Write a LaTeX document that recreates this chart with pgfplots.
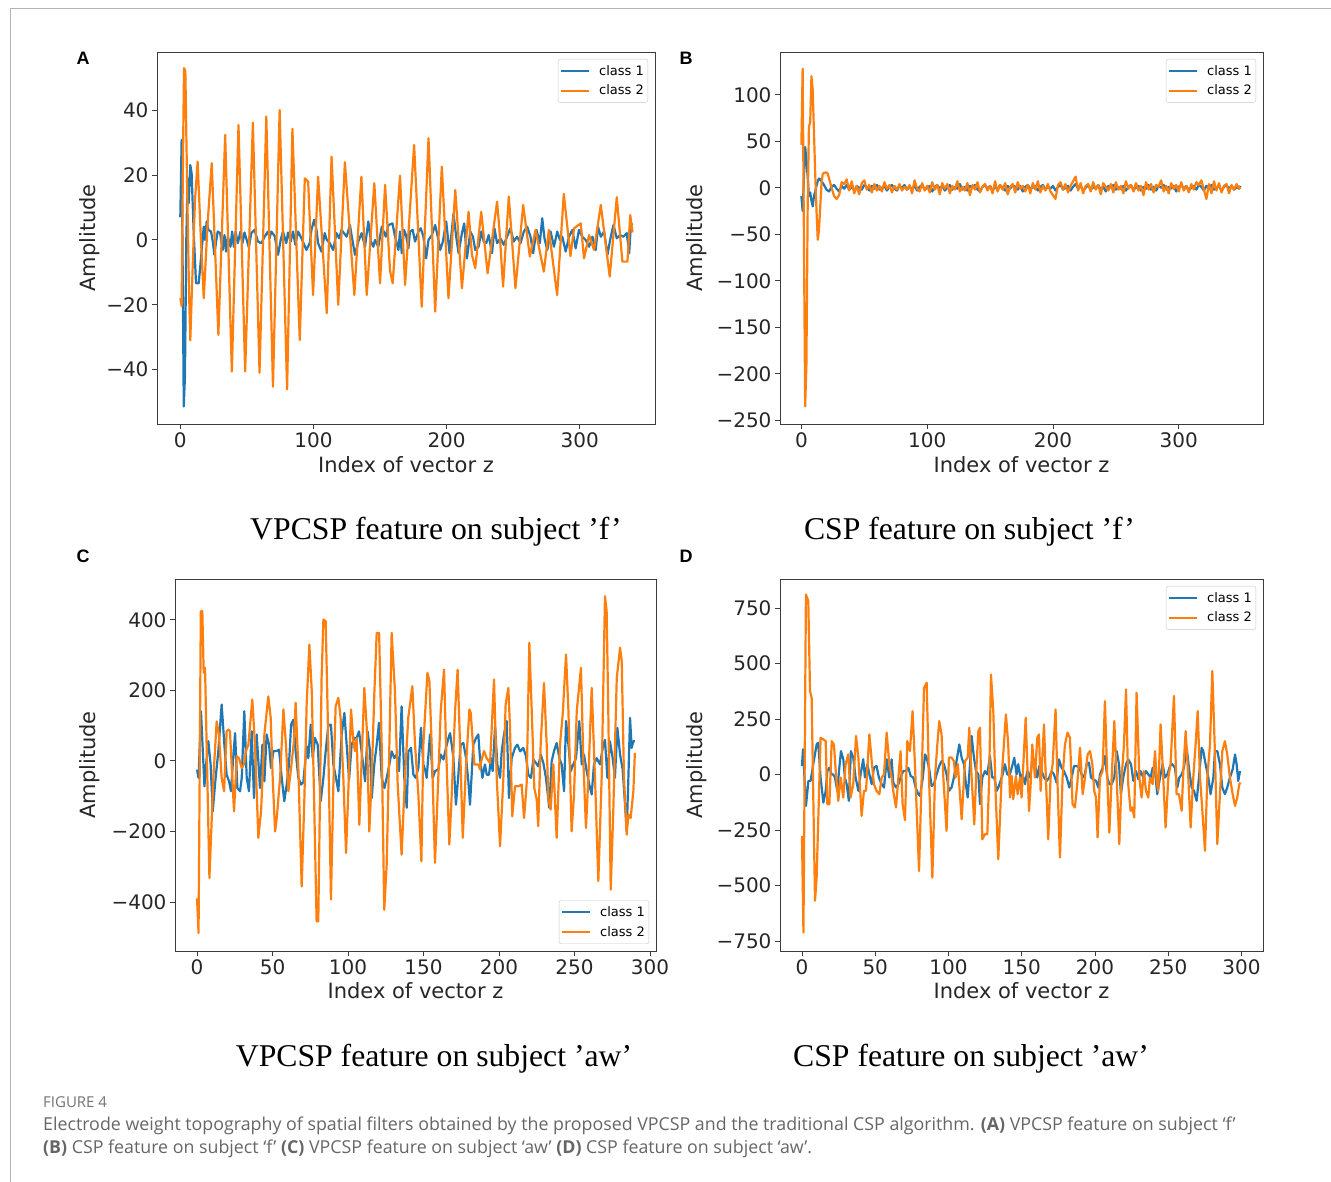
\documentclass[border=0pt]{standalone}
\usepackage{fontspec}
\setmainfont{DejaVu Sans}
\newfontfamily\dejavu{DejaVu Sans}
\newfontfamily\timesf{Liberation Serif}
\newfontfamily\arialf{Liberation Sans}
\newfontfamily\capfont{Open Sans}
\usepackage{pgfplots}
\pgfplotsset{compat=1.18}
\definecolor{cA}{RGB}{31,119,180}
\definecolor{cB}{RGB}{255,127,14}
\definecolor{axgray}{RGB}{60,60,60}
\pgfplotsset{
  panel/.style={
    scale only axis,
    axis line style={axgray, line width=0.9pt},
    every tick/.style={axgray, line width=0.9pt},
    major tick length=5pt,
    tick align=outside,
    tick pos=left,
    ticklabel style={font=\dejavu\fontsize{20}{24}\selectfont, text=black!85},
    every axis y label/.style={rotate=90, anchor=center, font=\dejavu\fontsize{21}{25}\selectfont, text=black!85},
    every axis x label/.style={anchor=center, font=\dejavu\fontsize{21}{25}\selectfont, text=black!85},
    legend cell align=left,
    legend style={font=\dejavu\fontsize{13}{15}\selectfont, draw=black!22, rounded corners=2pt, fill=white, inner xsep=2pt, inner ysep=4pt, row sep=4.5pt, nodes={inner sep=2pt}, /tikz/every odd column/.append style={column sep=7pt}},
    legend image code/.code={\draw[##1, line width=2pt] (0pt,0pt) -- (28pt,0pt);},
    every axis plot/.append style={line width=2.2pt, line join=round},
  }
}
\begin{document}
\begin{tikzpicture}
\path[use as bounding box] (0pt,0pt) rectangle (1331pt,1182pt);
\draw[black!30, line width=1pt] (10pt,0pt) -- (10pt,1173pt) -- (1331pt,1173pt);

% ---------------- Panel A ----------------
\begin{axis}[panel, at={(157pt,758pt)}, anchor=south west, width=498pt, height=372pt,
  xmin=-17.5, xmax=356.5, ymin=-56.8, ymax=58,
  xtick={0,100,200,300}, xticklabels={0,100,200,300},
  ytick={-40,-20,0,20,40}, yticklabels={−40,−20,0,20,40},
  xlabel={Index of vector z}, ylabel={Amplitude},
  xlabel style={at={(axis description cs:0.5,-0.110)}},
  ylabel style={at={(axis description cs:-0.1346,0.5)}},
  legend style={at={(1,1)}, anchor=north east, xshift=-7pt, yshift=-7pt}]
\addplot[cA] coordinates {(0,7) (1,30.9) (2,-20) (2.6,-51.4) (3.5,-42) (4.5,0) (5.5,19) (6.3,11.3) (7.5,23.1) (8.5,20.6) (10,3) (11.8,-13.4) (13.8,-13.4) (15,-8.2) (17.6,4.1) (18.6,0) (19.8,5.7) (21.1,3.1) (23.1,2.6) (24.4,-0.5) (25.6,-4.6) (26.9,-0.5) (28.1,2.6) (29.9,2.1) (31.9,-3.1) (33.2,1.5) (34.4,-3.6) (35.7,1) (37.7,-2.1) (38.9,2.6) (40.2,-2.1) (41.5,2.6) (43.2,-1) (45.2,2.6) (46.7,-1) (48.2,2.3) (49.5,0.5) (51.5,-2.3) (53.3,2.1) (55.8,3.1) (58.3,-0.5) (60.8,-1) (63.3,1) (65.8,2.6) (67.1,0.5) (68.3,2.6) (70.9,1.2) (73.4,-4.6) (75.4,0) (77.1,2.6) (79.6,-1) (80.9,2.3) (82.9,-0.5) (84.7,2.6) (86.4,-1.5) (88.4,2.6) (91,0.5) (94.7,-3.1) (97.2,-1) (98.5,3.1) (100.5,6.2) (102.3,3.1) (103.5,-1) (106,-3.6) (108.5,2.1) (109.8,0.2) (112.3,-1) (114.8,-3.1) (117.3,2.1) (119.3,0.5) (121.1,3.1) (124.9,1) (127.4,4.6) (128.6,1.5) (131.2,-4.6) (133.7,-0.5) (136.2,2.1) (138.7,-2.1) (141.2,5.7) (143.2,-0.5) (145,-2.1) (146.2,0) (148.7,-2.1) (151.3,4.1) (154.3,1) (156.3,4.6) (159.3,5.1) (161.3,1) (163.8,-3.1) (165,2.6) (166.3,-4.1) (168,3.1) (169.5,1.5) (171.3,-2.6) (172.5,2.6) (174.5,3.1) (176.3,-0.5) (178.8,2.6) (180.6,3.6) (182.6,1) (184.6,-5.7) (186.4,0) (188.9,1.5) (191.4,4.6) (193.1,1.5) (195.2,-3.1) (197.2,-0.5) (199.7,5.7) (202.2,-4.1) (205.2,8.2) (207.2,1) (209,-4.1) (211.5,2.1) (213.2,5.1) (215.3,-5.7) (217.8,2.6) (219.8,1) (221.5,-3.1) (224,-2.1) (226.1,2.6) (227.8,-0.5) (229.8,-1) (231.6,1.5) (234.1,-4.1) (235.9,3.6) (237.9,-1) (240.4,0.5) (242.9,-1.5) (245.4,1) (247.9,3.6) (250.4,-0.5) (252.9,1) (255.5,-1) (258,2.6) (260.5,4.1) (263,1) (265,-4.1) (267.5,3.1) (270,-1) (271.8,6.7) (273.5,0.5) (275.6,-3.1) (278.1,2.6) (280.6,-2.1) (283.1,2.6) (285.1,0) (286.9,1) (289.4,-3.6) (291.9,1) (294.4,3.1) (296.9,-2.6) (299.4,3.1) (301.9,1) (304.4,0) (307,-2.1) (309.5,1) (312,-3.1) (313.7,4.1) (315.8,1) (318.3,2.6) (320.8,-4.6) (322.8,0) (325.3,4.6) (327.8,0.5) (330.3,1.5) (332.8,1) (335.3,2.1) (337.1,-4.1) (338.4,4.6) (339.6,5.1)};
\addlegendentry{class 1}
\addplot[cB] coordinates {(0,-18) (1,-20.4) (2,25) (2.8,53) (3.8,52) (5,20) (6.5,-15) (7.5,-31) (9,-12) (11,12) (13,24.2) (15.5,0) (17.6,-18) (20.5,5) (23.6,23.7) (28.6,-29.3) (33.7,32.4) (38.7,-40.6) (43.7,35.5) (48.7,-40.6) (54.5,36.2) (59.5,-41) (64.6,38.1) (69.6,-45.3) (74.6,40.1) (80.2,-46.1) (84.2,34.3) (89.7,-30.9) (93.5,19) (96,18) (99.7,-17) (103.5,19.5) (110,-22.6) (113.6,25.7) (118.6,-20) (123.6,24) (130.7,-17) (136,19.5) (140,-17) (145.7,17.5) (150,-13.4) (153.8,17) (157.5,-9.5) (159.5,-13.4) (165,19.8) (168.8,-13.9) (175.6,29.3) (181.3,-20.6) (186.4,31.4) (191.4,-22.1) (196.4,22.6) (201.4,-18) (206.5,15.4) (211.5,-14.9) (216.5,8.7) (219,-4.6) (221.5,-8.7) (226,8.7) (230.8,-10.3) (235.4,4.1) (237.9,11.8) (239.6,3.6) (242.4,-14.4) (246.7,13.4) (251.7,-14.9) (257.5,10.8) (262.5,-5.1) (266.8,3.1) (273,-9.8) (276.8,3.1) (283,-17) (288,14.2) (293,-5) (295.7,3.6) (300.7,5.1) (303.2,-5.7) (307,1.5) (310.7,-3.1) (315.8,10.8) (322.5,-11.3) (327.8,13.2) (332,-6.7) (335.8,-6.7) (337.9,7.7) (339.6,2.3)};
\addlegendentry{class 2}
\end{axis}

% ---------------- Panel B ----------------
\begin{axis}[panel, at={(780pt,758pt)}, anchor=south west, width=483pt, height=372pt,
  xmin=-17, xmax=367, ymin=-254, ymax=146,
  xtick={0,100,200,300}, xticklabels={0,100,200,300},
  ytick={-250,-200,-150,-100,-50,0,50,100}, yticklabels={−250,−200,−150,−100,−50,0,50,100},
  xlabel={Index of vector z}, ylabel={Amplitude},
  xlabel style={at={(axis description cs:0.5,-0.110)}},
  ylabel style={at={(axis description cs:-0.1718,0.5)}},
  legend style={at={(1,1)}, anchor=north east, xshift=-7pt, yshift=-7pt}]
\addplot[cA] coordinates {(0,-9) (1,-25) (2,10) (3,44) (4,30) (5,12) (6,-9) (7,-5) (8,-14) (9,-20) (10,-9) (11,-4) (12,2) (13,7) (14,10) (15,9) (16,7) (18,3) (20,-2) (22,-4) (24,1) (26,3) (28,-1) (30,-4) (32,2) (34,-1) (36,3) (38,-2) (40,1) (42,-3) (44,2) (46,0) (48,-2) (50,3) (52,1) (54,-3) (56,2) (58,-1) (60,3) (62,-2) (64,0) (66,2) (68,-3) (70,1) (72,3) (74,-1) (76,-3) (78,2) (80,0) (82,3) (84,-2) (86,1) (88,-1) (90,2) (92,-3) (94,1) (96,3) (98,-2) (100,0) (102,2) (104,-4) (106,1) (108,3) (110,-1) (112,2) (114,-3) (116,0) (118,3) (120,-2) (122,1) (124,-1) (126,4) (128,-2) (130,1) (132,-3) (134,2) (136,0) (138,3) (140,-2) (142,-4) (144,1) (146,3) (148,-1) (150,2) (152,-3) (154,1) (156,-2) (158,3) (160,0) (162,-3) (164,2) (166,-1) (168,3) (170,1) (172,-2) (174,2) (176,-4) (178,1) (180,3) (182,-1) (184,0) (186,2) (188,-3) (190,1) (192,3) (194,-2) (196,1) (198,-1) (200,2) (202,-3) (204,1) (206,3) (208,-2) (210,0) (212,2) (214,-3) (216,1) (218,4) (220,-1) (222,2) (224,-3) (226,0) (228,3) (230,-2) (232,1) (234,-1) (236,3) (238,-2) (240,1) (242,-4) (244,2) (246,0) (248,3) (250,-2) (252,1) (254,-1) (256,2) (258,-3) (260,1) (262,3) (264,-2) (266,0) (268,2) (270,-3) (272,1) (274,-1) (276,3) (278,-2) (280,1) (282,-3) (284,2) (286,0) (288,3) (290,-2) (292,1) (294,-1) (296,2) (298,-4) (300,1) (302,3) (304,-1) (306,2) (308,-3) (310,0) (312,2) (314,-2) (316,3) (318,1) (320,-3) (322,2) (324,-1) (326,3) (328,-2) (330,0) (332,2) (334,-3) (336,1) (338,3) (340,-1) (342,2) (344,-2) (346,1) (348,-1) (349,2)};
\addlegendentry{class 1}
\addplot[cB] coordinates {(0,46) (1,128) (2,-50) (3,-235) (4,-190) (5,-20) (6,66) (7,70) (8,120) (9,105) (10,60) (11,15) (12,-24) (13,-56) (14,-45) (15,-20) (16,5) (17,15) (18,16) (20,16.5) (21,15) (22,10) (24,0) (26,-9) (28,-12) (30,-8) (32,6) (34,4) (36,9) (38,-3) (40,7) (42,-6) (44,2) (46,-7) (48,5) (50,8) (52,-2) (54,3) (56,-5) (58,4) (60,-3) (62,2) (64,-4) (66,6) (68,-1) (70,3) (72,-5) (74,2) (76,-2) (78,4) (80,-3) (82,1) (84,-2) (86,3) (88,-6) (90,8) (92,-1) (94,-4) (96,5) (98,-3) (100,2) (102,-5) (104,6) (106,-2) (108,3) (110,-7) (112,5) (114,-1) (116,4) (118,-6) (120,2) (122,-2) (124,7) (126,-4) (128,1) (130,-3) (132,5) (134,-8) (136,3) (138,-2) (140,6) (142,-5) (144,1) (146,4) (148,-3) (150,2) (152,-6) (154,7) (156,-4) (158,3) (160,-2) (162,5) (164,-7) (166,1) (168,4) (170,-5) (172,6) (174,-1) (176,2) (178,-4) (180,3) (182,-6) (184,5) (186,-2) (188,7) (190,-5) (192,2) (194,-3) (196,4) (198,-4) (200,-8) (202,-12) (204,3) (206,6) (208,-2) (210,4) (212,-5) (214,2) (216,7) (218,12) (220,-3) (222,5) (224,-6) (226,2) (228,4) (230,-4) (232,6) (234,-2) (236,3) (238,-7) (240,5) (242,1) (244,-3) (246,4) (248,-5) (250,6) (252,-2) (254,2) (256,-6) (258,7) (260,-1) (262,3) (264,-4) (266,5) (268,-3) (270,2) (272,-8) (274,6) (276,-2) (278,4) (280,-5) (282,3) (284,1) (286,8) (288,-4) (290,2) (292,-6) (294,5) (296,-1) (298,3) (300,-4) (302,6) (304,-3) (306,2) (308,-5) (310,4) (312,-2) (314,6) (316,3) (318,8) (320,-2) (322,-12) (324,4) (326,-6) (328,7) (330,-3) (332,5) (334,-5) (336,2) (338,4) (340,-6) (342,3) (344,-2) (346,4) (348,-1) (349,1)};
\addlegendentry{class 2}
\end{axis}

% ---------------- Panel C ----------------
\begin{axis}[panel, at={(175pt,231pt)}, anchor=south west, width=481pt, height=372pt,
  xmin=-14.6, xmax=304, ymin=-539, ymax=516,
  xtick={0,50,100,150,200,250,300}, xticklabels={0,50,100,150,200,250,300},
  ytick={-400,-200,0,200,400}, yticklabels={−400,−200,0,200,400},
  xlabel={Index of vector z}, ylabel={Amplitude},
  xlabel style={at={(axis description cs:0.5,-0.1075)}},
  ylabel style={at={(axis description cs:-0.1767,0.5)}},
  legend style={at={(1,0)}, anchor=south east, xshift=-7pt, yshift=7pt}]
\addplot[cA] coordinates {(0,-25) (1,-48) (2.6,141) (4.9,-72) (6,-10) (7.5,56) (9,-10) (10.4,-143) (11.9,-67) (14.1,28) (16.3,160) (18.1,46) (19.6,-39) (21.2,-58) (22.5,-86) (24.1,18) (25.2,79) (26.7,-77) (28.5,-86) (29.6,-48) (31.3,141) (32.9,-48) (34.4,-86) (36.2,84) (37.7,-105) (39.5,75) (40.6,-1) (41.7,-77) (43.3,46) (44.6,-58) (46.1,75) (47.7,46) (49,-20) (50.6,28) (52.8,28) (54.3,32) (56.1,-48) (57.8,-114) (59.4,-67) (60.9,-10) (62.3,103) (63.8,117) (65.3,27) (67.1,-48) (68.9,-67) (70.4,-60) (72.6,42) (73.7,8) (75.3,103) (76.6,8) (78.1,65) (79.9,46) (81.9,-114) (83.7,-48) (85.2,27) (87,103) (88.7,103) (90.3,-10) (91.8,-43) (93.6,-86) (95.8,75) (97.6,136) (99.1,46) (100.7,-53) (102.4,46) (104.2,65) (105.7,65) (107.3,84) (109,27) (111.3,-58) (113,84) (114.6,27) (115.7,-105) (117.4,-10) (119,46) (120.5,108) (122.3,-48) (124.1,-77) (125.6,-48) (127.4,-10) (128.9,27) (130.7,8) (132.2,18) (133.8,-29) (135.5,155) (137.3,-48) (138.9,-133) (140,27) (141.7,37) (143.3,-39) (144.8,-48) (146.6,-20) (148.3,94) (149.9,-10) (151,-24) (152.1,-48) (154.3,75) (156.1,-48) (157.6,-29) (159.8,-24) (161.4,18) (163.2,4) (164.9,37) (166.5,65) (167.6,79) (168.7,46) (169.8,8) (171.5,-124) (173.1,-39) (174.6,46) (176.4,51) (178.2,8) (179.7,-58) (180.8,-124) (181.9,-39) (183,46) (184.8,65) (186.3,75) (187.4,8) (189,-48) (190.7,-10) (191.9,-39) (193.4,-39) (194.7,8) (195.8,-29) (197.4,98) (198.9,-10) (200.7,-48) (201.8,27) (203.3,75) (205.1,113) (206.6,-105) (208.4,8) (210.6,37) (212.2,46) (214,27) (216.1,37) (217.9,13) (219.4,-39) (221.2,-48) (222.8,4) (224.5,-6) (226.1,-15) (227.6,18) (229.4,-6) (231.1,-48) (233.3,-133) (234.9,-1) (236.4,27) (238.2,51) (240,8) (241.5,-10) (243.1,-86) (244.4,113) (246,46) (247.5,-29) (249.2,-10) (251,8) (253.2,113) (254.8,-10) (256.3,18) (258.1,-29) (259.8,-67) (261.4,-95) (262.9,-10) (264.7,8) (266.9,-10) (268.7,37) (270.2,60) (271.8,-48) (273.5,56) (275.3,8) (276.8,-48) (278.4,94) (280.2,18) (281.9,-24) (283.5,-124) (284.6,-200) (285.7,-48) (286.8,122) (287.9,37) (289,56) (290,56)};
\addlegendentry{class 1}
\addplot[cB] coordinates {(0,-390) (1,-488) (2.5,425) (3.5,425) (4.4,250) (5.3,264) (8.2,-332) (10.8,-48) (13,112) (14.5,75) (16.3,-48) (17.9,-86) (19.6,84) (20.7,89) (21.8,84) (22.9,-10) (24.5,-143) (26.3,13) (27.8,8) (29.6,-20) (31.1,-10) (32.4,28) (34,46) (36.6,174) (38.4,46) (40.6,-218) (42.4,-143) (44.6,75) (47.2,183) (48.8,122) (50.1,-48) (51.7,-200) (52.8,-162) (55,-48) (57.2,146) (58.9,46) (60.5,-86) (62.3,-20) (64.2,56) (65.3,165) (67.1,-20) (69.3,-356) (71.1,-105) (72.6,160) (74.4,330) (76,197) (77.7,-143) (79.2,-455) (80.3,-455) (82.5,236) (83.7,401) (85.2,396) (86.5,141) (88.7,-393) (90.3,-67) (91.8,155) (93.6,179) (95.1,122) (96.9,-48) (98.7,-261) (100.2,-86) (102,146) (103.5,56) (104.6,28) (105.7,65) (107.5,-181) (109,-1) (110.8,207) (112.4,94) (114.1,-200) (115.7,-48) (117.4,188) (119,363) (120.6,363) (122.3,46) (124,-422) (125.6,-294) (127.4,46) (128.9,363) (131.1,197) (132.9,-67) (135.5,-266) (137.7,-48) (139.9,122) (142.6,212) (144.4,46) (146.6,-96) (148.6,-285) (149.9,46) (152.6,250) (153.9,226) (155.4,46) (157.6,-289) (159.8,-48) (161.4,141) (163.6,259) (164.9,46) (167.1,-237) (168.7,-96) (170.9,141) (172.6,259) (174.2,46) (176,-218) (178.2,-10) (180.4,146) (181.3,136) (182.6,56) (183.7,-10) (185.2,-10) (186.3,-10) (187.4,-24) (188.5,4) (190.1,28) (191.8,8) (194.1,-6) (196.7,231) (198.5,-48) (200.7,-242) (202.9,-48) (204.4,160) (206.2,207) (207.3,94) (208.8,-157) (210.6,-72) (212.8,-72) (215,-67) (216.6,-162) (218.3,-67) (220.1,335) (221.7,141) (223.4,-77) (225,-110) (226,-185) (227.6,46) (229.8,221) (231.6,46) (232.7,-105) (234.2,-138) (236,-10) (238.2,-218) (240.4,46) (242.2,131) (244.4,302) (246,141) (248.1,-200) (249.7,-96) (251.5,141) (254.3,264) (255.9,-1) (257.6,-190) (259.2,-48) (261.4,207) (263.6,-48) (265.8,-341) (268,-48) (270.2,467) (271.3,425) (272.4,141) (274,-365) (275.7,-143) (278,235) (280.2,321) (281.3,283) (282.8,-48) (284.6,-209) (285.7,-152) (287.2,-162) (289,-86) (290,23)};
\addlegendentry{class 2}
\end{axis}

% ---------------- Panel D ----------------
\begin{axis}[panel, at={(780pt,231pt)}, anchor=south west, width=483pt, height=372pt,
  xmin=-15, xmax=314.7, ymin=-794, ymax=881,
  xtick={0,50,100,150,200,250,300}, xticklabels={0,50,100,150,200,250,300},
  ytick={-750,-500,-250,0,250,500,750}, yticklabels={−750,−500,−250,0,250,500,750},
  xlabel={Index of vector z}, ylabel={Amplitude},
  xlabel style={at={(axis description cs:0.5,-0.1075)}},
  ylabel style={at={(axis description cs:-0.1718,0.5)}},
  legend style={at={(1,1)}, anchor=north east, xshift=-7pt, yshift=-7pt}]
\addplot[cA] coordinates {(0,39) (0.7,114) (2.7,-141) (4.4,-28) (5.9,-28) (7.7,47) (10,136) (11.1,144) (12.7,-13) (14.6,-126) (16.2,-73) (17.3,16) (18.7,31) (20.3,1) (21.4,1) (22.5,-13) (24.1,-73) (25.5,31) (26.6,106) (28.2,69) (29.3,-13) (30.5,-43) (32,-118) (33.4,106) (35,76) (36.6,-13) (38.5,-73) (40,1) (41.8,69) (43,-13) (44.6,47) (46,1) (47.6,-43) (49.1,31) (50.9,39) (52.5,-13) (54.4,-43) (56,-58) (57.8,69) (59.6,-13) (61.2,69) (62.3,-36) (64.2,-58) (65.8,-43) (67.3,-13) (69.1,16) (70.7,16) (72.6,31) (74.2,-6) (76,-13) (77.6,-58) (79.4,-88) (80.6,-96) (82.5,-13) (84,91) (85.1,76) (86.7,31) (88.5,-51) (90.1,-43) (91.9,1) (93.7,39) (95.3,61) (96.9,47) (98.7,1) (100.3,-73) (102.1,-58) (103.7,-13) (105.5,61) (107.4,136) (109,76) (110.6,47) (111.9,-43) (113.1,-103) (114.7,47) (115.8,174) (117.4,76) (118.8,16) (120.4,1) (121.5,-133) (123.1,-13) (124.9,16) (126.5,1) (128.3,84) (129.9,-13) (131.3,-13) (132.9,-73) (134,-58) (135.6,-28) (137,1) (138.5,47) (140.1,1) (141.9,1) (143.5,39) (144.9,76) (146.5,1) (147.6,47) (149.2,-13) (150.6,1) (152.2,-43) (153.8,16) (155.6,-13) (157.2,61) (159,47) (160.6,-13) (162,39) (163.6,16) (165.2,-13) (167,-28) (168.8,-13) (170.4,16) (172,1) (173.8,-36) (175.4,69) (177.2,31) (178.8,16) (180.7,-13) (182.5,-58) (184.1,-13) (185.7,39) (187.5,39) (189.3,31) (190.9,1) (192.7,-13) (194.3,47) (195.9,54) (197.3,-13) (198.9,-21) (200.7,-28) (202.3,-58) (203.4,1) (205.2,31) (206.8,84) (208.4,-13) (209.8,-43) (211.4,-43) (213.2,-13) (214.8,106) (216.4,47) (217.7,-88) (219.3,-13) (221.2,47) (222.7,69) (224.6,47) (226.2,-28) (228,16) (229.6,-21) (231.2,16) (233,-13) (234.8,16) (236.4,1) (238,-13) (239.4,31) (241,16) (242.5,-88) (244.4,-13) (246.2,47) (247.8,-13) (249.4,1) (251.2,39) (252.8,47) (254.6,31) (256.2,-58) (257.6,-13) (259.2,1) (260.7,31) (262.6,121) (264.4,16) (266,-58) (267.6,-73) (269.4,-118) (271,-13) (272.8,121) (273.9,106) (275.5,47) (277.4,-13) (278.9,-88) (280.8,-13) (281.9,106) (283.5,106) (285.3,47) (286.9,-58) (288.7,-88) (290.3,-58) (292.1,-13) (294,24) (295.6,91) (296.7,47) (297.8,-28) (299,16)};
\addlegendentry{class 1}
\addplot[cB] coordinates {(0,-276) (1,-711) (2.7,811) (4.3,781) (5.5,376) (6.6,346) (8.9,-568) (10,-464) (12.7,166) (14.5,159) (16.2,151) (17.3,-133) (18.7,-133) (20.3,151) (21.8,136) (23.2,1) (24.8,-118) (26.4,-13) (28.2,-103) (29.8,47) (31.6,91) (33.2,-103) (35,-43) (36.9,174) (38.5,77) (40.7,-186) (42.3,-73) (43.7,-73) (46,181) (47.6,61) (49.1,-43) (50.9,-73) (52.8,-88) (54.4,-13) (56,1) (57.8,189) (59.6,47) (61.2,-13) (62.3,-73) (64.2,-148) (65.8,-13) (67.3,106) (68.7,-133) (70.3,-205) (71.9,151) (73.7,106) (75.5,286) (77.1,47) (79.9,-434) (81.7,-13) (83.3,391) (85.1,414) (86.7,-13) (89,-464) (90.8,-13) (92.4,136) (93.7,241) (95.3,181) (96.5,-13) (98.7,-253) (100.3,77) (102.1,77) (103.7,61) (104.8,-13) (106.4,47) (109,-201) (111.3,61) (113.1,77) (114.2,211) (115.8,-13) (117.6,-224) (119.2,47) (120.4,196) (121.5,211) (123.1,-291) (124.9,-268) (126.5,-268) (127.8,-13) (129,451) (130.6,286) (132.2,-88) (134,-381) (136.3,-13) (139.2,271) (140.8,136) (142,-103) (143.1,-6) (144.2,-111) (146,-6) (147.2,-88) (148.8,-13) (149.9,-103) (151.1,47) (152.7,256) (153.8,47) (155,-164) (156.1,-43) (157.2,136) (159,-13) (160.6,166) (161.8,181) (162.9,-73) (164.3,106) (165.2,226) (166.3,16) (168.1,-291) (169.7,-13) (171.1,47) (173.1,294) (174.3,-13) (176.1,-373) (177.9,-13) (179.5,136) (181.3,189) (182.9,166) (184.7,-133) (186.3,-148) (187.9,-43) (189.8,121) (191.6,-88) (193.2,-13) (195,91) (196.6,106) (198.2,47) (199.5,-73) (200.7,-103) (201.8,-283) (203.4,-13) (205.2,16) (206.8,331) (208.4,-13) (209.8,-261) (211.4,-13) (213.2,241) (214.8,-13) (216.6,-313) (218.2,-13) (219.8,136) (221.2,384) (222.7,-43) (224.3,-163) (225.5,-148) (226.8,-193) (228.4,369) (230.3,-13) (231.8,-103) (233.4,16) (234.8,-73) (236.4,-103) (237.5,-13) (239.4,-43) (241,106) (242.1,-28) (243.2,-73) (244.8,226) (246.6,-13) (248.2,-238) (250.1,-13) (251.6,47) (253.9,354) (255.7,-88) (257.3,-88) (259.2,-163) (260.3,16) (261.9,196) (263.7,-13) (265.3,-238) (267.1,-13) (268.7,136) (270.1,286) (271.7,-13) (273.3,-163) (275.1,-343) (276.7,-13) (278.5,136) (280.1,466) (281.7,136) (283.5,-313) (285.3,-88) (286.9,106) (288.7,151) (290.3,91) (292.1,-13) (294,-88) (295.6,-141) (297.1,-103) (298.5,-43) (299.4,-36)};
\addlegendentry{class 2}
\end{axis}

% ---------------- Panel letters ----------------
\node[font=\arialf\bfseries\fontsize{18}{20}\selectfont] at (83pt,1124pt) {A};
\node[font=\arialf\bfseries\fontsize{18}{20}\selectfont] at (686pt,1124pt) {B};
\node[font=\arialf\bfseries\fontsize{18}{20}\selectfont] at (83pt,626pt) {C};
\node[font=\arialf\bfseries\fontsize{18}{20}\selectfont] at (686pt,626pt) {D};

% ---------------- Sub-titles ----------------
\node[anchor=base, font=\timesf\fontsize{31.7}{38}\selectfont] at (436pt,642pt) {VPCSP feature on subject ’f’};
\node[anchor=base, font=\timesf\fontsize{31.7}{38}\selectfont] at (969.5pt,642pt) {CSP feature on subject ’f’};
\node[anchor=base, font=\timesf\fontsize{31.7}{38}\selectfont] at (434pt,115pt) {VPCSP feature on subject ’aw’};
\node[anchor=base, font=\timesf\fontsize{31.7}{38}\selectfont] at (971pt,115pt) {CSP feature on subject ’aw’};

% ---------------- Caption ----------------
\node[anchor=base west, inner sep=0pt, text=black!55, font=\capfont\fontsize{15}{17}\selectfont] at (43pt,74pt) {FIGURE 4};
\node[anchor=base west, inner sep=0pt, text=black!60, font=\capfont\fontsize{17.8}{20}\selectfont] at (43pt,51pt) {Electrode weight topography of spatial filters obtained by the proposed VPCSP and the traditional CSP algorithm. \textbf{(A)} VPCSP feature on subject ‘f’};
\node[anchor=base west, inner sep=0pt, text=black!60, font=\capfont\fontsize{17.8}{20}\selectfont] at (43pt,28pt) {\textbf{(B)} CSP feature on subject ‘f’ \textbf{(C)} VPCSP feature on subject ‘aw’ \textbf{(D)} CSP feature on subject ‘aw’.};
\end{tikzpicture}
\end{document}
